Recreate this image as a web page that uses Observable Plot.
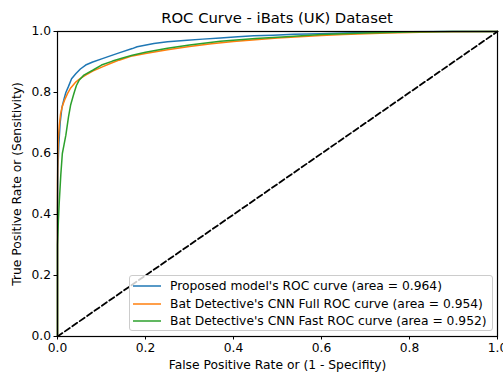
<!DOCTYPE html>
<html>
<head>
<meta charset="utf-8">
<script src="https://cdn.jsdelivr.net/npm/d3@7"></script>
<script src="https://cdn.jsdelivr.net/npm/@observablehq/plot@0.6"></script>
<style>
  body { margin: 0; background: #fff; font-family: "DejaVu Sans", sans-serif; }
  #wrap { position: relative; width: 503px; height: 372px; overflow: hidden; }
  #title { height: 24px; box-sizing: border-box; padding-top: 10px; font-size: 14.8px; line-height: 15px; text-align: center; padding-left: 51px; color: #000; }
  #legend { position: absolute; left: 129px; top: 275px; width: 362px; height: 54px; border: 1px solid #cccccc; border-radius: 3px; background: rgba(255,255,255,0.8); font-size: 12.3px; color: #000; }
  .row { position: absolute; left: 0; height: 16px; display: flex; align-items: center; white-space: nowrap; }
  .row svg { margin-left: 3px; margin-right: 9px; }
  svg.plot { display: block; }
</style>
</head>
<body>
<div id="wrap">
  <div id="title">ROC Curve - iBats (UK) Dataset</div>
  <div id="chart"></div>
  <div id="legend"></div>
</div>
<script>
const seriesNames = [
  "Proposed model's ROC curve (area = 0.964)",
  "Bat Detective's CNN Full ROC curve (area = 0.954)",
  "Bat Detective's CNN Fast ROC curve (area = 0.952)"
];
const seriesColors = ["#1f77b4", "#ff7f0e", "#2ca02c"];

const proposedFpr = [0, 0, 0.001, 0.003, 0.006, 0.01, 0.015, 0.019, 0.025, 0.032, 0.042, 0.052, 0.064, 0.08, 0.102, 0.12, 0.14, 0.17, 0.181, 0.219, 0.25, 0.295, 0.33, 0.37, 0.41, 0.446, 0.49, 0.537, 0.598, 0.65, 0.7, 0.8, 0.9, 1.0];
const proposedTpr = [0, 0.42, 0.55, 0.63, 0.7, 0.75, 0.78, 0.8, 0.82, 0.845, 0.862, 0.877, 0.89, 0.9, 0.911, 0.92, 0.93, 0.944, 0.95, 0.961, 0.966, 0.971, 0.975, 0.979, 0.983, 0.986, 0.988, 0.991, 0.993, 0.995, 0.997, 0.999, 1.0, 1.0];

const fullFpr = [0, 0, 0.001, 0.002, 0.004, 0.007, 0.011, 0.016, 0.023, 0.03, 0.042, 0.052, 0.064, 0.08, 0.102, 0.12, 0.14, 0.17, 0.2, 0.25, 0.3, 0.35, 0.4, 0.45, 0.5, 0.55, 0.6, 0.65, 0.7, 0.75, 0.8, 0.87, 1.0];
const fullTpr = [0, 0.5, 0.6, 0.65, 0.69, 0.73, 0.755, 0.775, 0.797, 0.815, 0.835, 0.846, 0.857, 0.87, 0.884, 0.895, 0.906, 0.92, 0.928, 0.94, 0.951, 0.96, 0.967, 0.973, 0.979, 0.983, 0.987, 0.99, 0.993, 0.995, 0.997, 0.999, 1.0];

const fastFpr = [0, 0, 0.002, 0.004, 0.0075, 0.011, 0.015, 0.019, 0.025, 0.03, 0.035, 0.038, 0.043, 0.049, 0.06, 0.08, 0.1, 0.125, 0.15, 0.17, 0.2, 0.25, 0.3, 0.37, 0.45, 0.52, 0.6, 0.7, 0.8, 0.9, 1.0];
const fastTpr = [0, 0.3, 0.38, 0.44, 0.53, 0.6, 0.63, 0.66, 0.72, 0.76, 0.785, 0.8, 0.823, 0.84, 0.857, 0.873, 0.89, 0.903, 0.914, 0.922, 0.932, 0.945, 0.956, 0.968, 0.977, 0.983, 0.99, 0.995, 0.998, 1.0, 1.0];

const diagX = [0, 1];
const diagY = [0, 1];
const tickValues = [0, 0.2, 0.4, 0.6, 0.8, 1.0];
const xLabel = "False Positive Rate or (1 - Specifity)";
const yLabel = "True Positive Rate or (Sensitivity)";

const toRows = (xs, ys) => xs.map((x, i) => ({x, y: ys[i]}));
const curves = [
  toRows(proposedFpr, proposedTpr),
  toRows(fullFpr, fullTpr),
  toRows(fastFpr, fastTpr)
];
const diag = toRows(diagX, diagY);

const chart = Plot.plot({
  width: 503,
  height: 348,
  marginLeft: 57,
  marginRight: 6,
  marginTop: 7,
  marginBottom: 36,
  style: {fontFamily: "DejaVu Sans, sans-serif", fontSize: "12.3px", color: "#000", background: "#fff"},
  x: {domain: [0, 1]},
  y: {domain: [0, 1]},
  marks: [
    ...curves.map((d, i) => Plot.line(d, {x: "x", y: "y", stroke: seriesColors[i], strokeWidth: 1.5, curve: "linear"})),
    Plot.line(diag, {x: "x", y: "y", stroke: "#000", strokeWidth: 1.8, strokeDasharray: "6,3"}),
    Plot.frame({stroke: "#000", strokeWidth: 1.2}),
    Plot.axisX({ticks: tickValues, tickFormat: d3.format(".1f"), tickSize: 3.5, tickPadding: 3, label: null, fontSize: 12.3}),
    Plot.axisY({ticks: tickValues, tickFormat: d3.format(".1f"), tickSize: 3.5, tickPadding: 3, label: null, fontSize: 12.3}),
    Plot.text([xLabel], {text: d => d, frameAnchor: "bottom", textAnchor: "middle", lineAnchor: "middle", dy: 29, fontSize: 12.3}),
    Plot.text([yLabel], {text: d => d, frameAnchor: "left", textAnchor: "middle", lineAnchor: "middle", dx: -40, rotate: -90, fontSize: 12.3})
  ]
});
document.getElementById("chart").appendChild(chart);

const legend = document.getElementById("legend");
seriesNames.forEach((name, i) => {
  const row = document.createElement("div");
  row.className = "row";
  row.style.top = (2 + i * 17.5) + "px";
  row.innerHTML = `<svg width="28" height="4"><line x1="0" y1="2" x2="28" y2="2" stroke="${seriesColors[i]}" stroke-width="1.5"/></svg><span>${name}</span>`;
  legend.appendChild(row);
});
</script>
</body>
</html>
